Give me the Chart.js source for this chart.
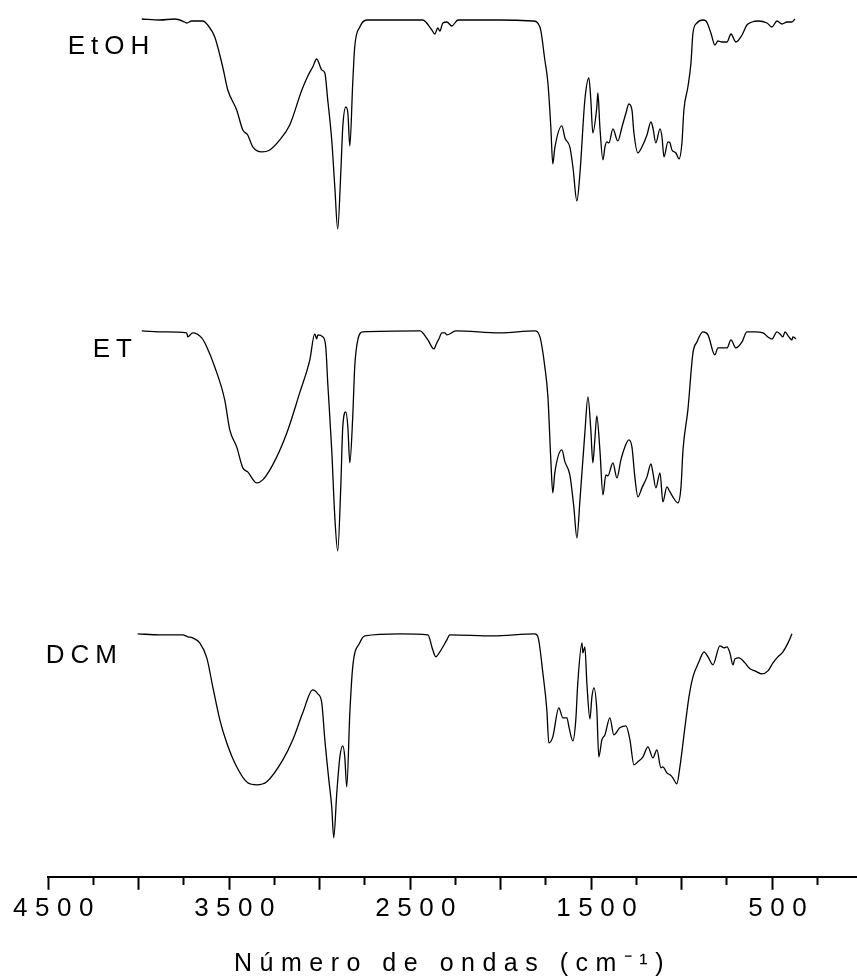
<!DOCTYPE html>
<html>
<head>
<meta charset="utf-8">
<script src="https://cdn.jsdelivr.net/npm/chart.js@4.4.1/dist/chart.umd.min.js"></script>
<style>
html,body{margin:0;padding:0;background:#fff;overflow:hidden}
#wrap{position:relative;width:857px;height:980px}
</style>
</head>
<body>
<div id="wrap"><canvas id="c"></canvas></div>
<script>
// Wavenumbers (cm-1) and transmittance (arbitrary units, stacked)
const etohWn = [3982,3883,3800,3745,3734,3706,3645,3618,3579,3535,3507,3458,3424,3397,3369,3319,3275,3220,3165,3098,3065,3038,3016,2988,2971,2955,2933,2916,2900,2883,2872,2855,2844,2833,2817,2806,2778,2739,2557,2430,2380,2364,2347,2336,2319,2297,2270,2236,2004,1822,1783,1756,1739,1723,1712,1701,1662,1645,1618,1601,1579,1562,1535,1513,1502,1491,1469,1463,1452,1435,1424,1413,1402,1380,1353,1330,1308,1292,1275,1264,1242,1220,1192,1170,1159,1143,1120,1109,1098,1076,1065,1054,1032,1015,999,988,966,949,938,916,883,866,839,817,800,778,750,728,701,667,640,612,579,529,502,474,446,419,391,375];
const etohT = [858,857,858,855,854,856,856,852,840,810,787,767,747,742,730,725,727,737,752,787,801,810,818,807,804,777,737,690,648,704,750,770,764,731,794,830,850,857,857,857,847,843,849,846,854,855,851,857,857,856,850,817,794,750,713,729,751,739,730,710,676,704,777,799,777,744,770,784,750,717,730,735,734,748,736,750,764,773,767,744,724,730,742,755,749,734,748,740,720,735,734,727,724,718,734,767,790,814,844,854,857,856,844,832,836,835,835,843,835,842,852,855,856,854,850,856,853,855,855,858];

const etWn = [3982,3855,3734,3728,3701,3651,3623,3579,3524,3496,3458,3424,3397,3347,3314,3259,3181,3110,3054,3027,3016,3010,2982,2966,2955,2933,2916,2900,2883,2872,2855,2844,2833,2817,2806,2789,2761,2446,2402,2369,2353,2341,2325,2308,2297,2248,2004,1811,1783,1756,1739,1723,1712,1701,1662,1645,1618,1596,1579,1562,1535,1518,1502,1491,1480,1469,1452,1435,1419,1408,1380,1358,1336,1314,1292,1275,1259,1242,1220,1192,1170,1159,1143,1120,1104,1082,1065,1049,1021,1004,993,966,938,916,883,855,817,800,750,728,701,667,640,596,551,524,502,474,457,441,430,408,391,386,369];
const etT = [546,545,544,540,544,539,530,510,477,447,430,409,405,394,397,412,444,484,517,543,538,542,540,530,494,427,360,326,390,450,465,450,414,460,510,537,545,546,537,528,534,538,544,544,542,546,544,546,540,510,480,417,384,404,427,415,402,370,339,377,444,480,447,414,437,461,427,382,402,401,414,399,417,430,437,430,400,380,389,400,413,404,389,404,375,390,385,380,374,390,427,467,524,535,545,542,522,529,529,537,529,535,545,545,544,540,538,545,543,540,545,540,537,540,538];

const dcmWn = [4005,3883,3756,3728,3701,3662,3623,3590,3551,3513,3458,3397,3347,3292,3203,3148,3093,3038,3010,2988,2971,2949,2933,2922,2905,2888,2872,2861,2850,2833,2817,2778,2750,2557,2402,2375,2358,2336,2297,2281,2043,1811,1794,1767,1745,1734,1712,1679,1656,1634,1623,1601,1585,1574,1551,1546,1535,1524,1507,1496,1485,1469,1458,1441,1424,1397,1375,1342,1308,1286,1264,1242,1214,1187,1159,1137,1115,1104,1082,1065,1049,1027,1010,982,960,938,905,877,855,828,789,766,750,734,717,706,684,651,623,596,557,524,496,469,441,413,391];
const dcmT = [243,242,242,240,239,234,219,190,157,134,110,94,92,95,117,137,164,187,183,174,137,97,70,39,84,120,131,120,90,164,210,234,241,243,242,227,220,225,237,242,241,243,240,204,167,134,140,169,159,159,150,136,157,194,234,224,230,194,158,180,189,167,120,137,142,159,142,149,151,137,112,115,120,130,119,127,109,110,104,102,99,93,110,150,180,200,215,225,220,212,231,229,230,224,212,218,219,214,208,206,203,206,214,220,225,234,243];

const seriesNames = ['EtOH', 'ET', 'DCM'];
// label anchors in data units (wavenumber, a.u.)
const labelAnchorWn = [4391, 4253, 4513];
const labelAnchorVal = [823, 520, 214];

const tickValues = [4500,4250,4000,3750,3500,3250,3000,2750,2500,2250,2000,1750,1500,1250,1000,750,500,250];
const majorTicks = [4500,4000,3500,3000,2500,2000,1500,1000,500];
const labeledTicks = [4500,3500,2500,1500,500];

const FONT = "'Liberation Sans', Arial, Helvetica, sans-serif";

function toPoints(wn, vals) { return wn.map((x, i) => ({ x: x, y: vals[i] })); }

const spacingPlugin = {
  id: 'spacing',
  beforeLayout(chart) { chart.ctx.letterSpacing = '7.5px'; },
  beforeDraw(chart) { chart.ctx.letterSpacing = '7.5px'; },
  afterDraw(chart) {
    const ctx = chart.ctx, xs = chart.scales.x, ys = chart.scales.y;
    ctx.save();
    ctx.letterSpacing = '6px';
    ctx.font = '26px ' + FONT;
    ctx.fillStyle = '#000';
    ctx.textAlign = 'left';
    ctx.textBaseline = 'alphabetic';
    seriesNames.forEach((n, i) => {
      ctx.fillText(n, xs.getPixelForValue(labelAnchorWn[i]), ys.getPixelForValue(labelAnchorVal[i]));
    });
    ctx.restore();
  }
};

const lineStyle = { borderColor: '#000', borderWidth: 1.3, pointRadius: 0, fill: false, cubicInterpolationMode: 'monotone' };

new Chart(document.getElementById('c'), {
  type: 'line',
  data: {
    datasets: [
      Object.assign({ label: seriesNames[0], data: toPoints(etohWn, etohT) }, lineStyle),
      Object.assign({ label: seriesNames[1], data: toPoints(etWn, etT) }, lineStyle),
      Object.assign({ label: seriesNames[2], data: toPoints(dcmWn, dcmT) }, lineStyle)
    ]
  },
  options: {
    responsive: true,
    maintainAspectRatio: false,
    animation: false,
    layout: { padding: { left: 48, right: 0, top: 0, bottom: 0 } },
    plugins: { legend: { display: false }, tooltip: { enabled: false } },
    scales: {
      x: {
        type: 'linear',
        reverse: true,
        min: 32,
        max: 4500,
        afterBuildTicks: (s) => { s.ticks = tickValues.map(v => ({ value: v })); },
        ticks: {
          autoSkip: false, maxRotation: 0, minRotation: 0,
          padding: 3, labelOffset: 9, color: '#000',
          font: { family: FONT, size: 26 },
          callback: (v) => labeledTicks.includes(v) ? String(v) : ''
        },
        grid: {
          display: true, drawOnChartArea: false, drawTicks: true,
          tickLength: 13, tickWidth: 2, tickColor: '#000',
          tickBorderDash: (c) => (c.tick && majorTicks.includes(c.tick.value)) ? [] : [7, 40]
        },
        border: { display: true, color: '#000', width: 2 },
        title: {
          display: true, text: 'Número de ondas (cm⁻¹)', color: '#000',
          font: { family: FONT, size: 25 }, padding: { top: 22, bottom: 1 }
        }
      },
      y: { display: false, min: 0, max: 877 }
    }
  },
  plugins: [spacingPlugin]
});
</script>
</body>
</html>
